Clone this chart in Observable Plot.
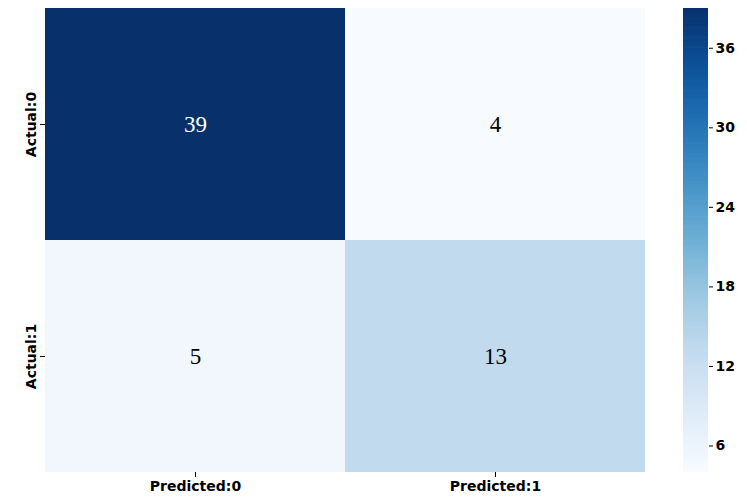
<!DOCTYPE html>
<html>
<head>
<meta charset="utf-8">
<script src="https://cdn.jsdelivr.net/npm/d3@7"></script>
<script src="https://cdn.jsdelivr.net/npm/@observablehq/plot@0.6"></script>
<style>
  html, body { margin: 0; padding: 0; background: #fff; }
  #wrap { position: relative; width: 747px; height: 501px; overflow: hidden; }
  #wrap svg { position: absolute; top: 0; }
</style>
</head>
<body>
<div id="wrap"></div>
<script>
const predicted = ["Predicted:0", "Predicted:1"];
const actual = ["Actual:0", "Actual:1"];
const counts = [[39, 4], [5, 13]];
const colorTicks = [6, 12, 18, 24, 30, 36];
const colorDomain = [4, 39];

const data = actual.flatMap((a, i) => predicted.map((p, j) => ({actual: a, predicted: p, count: counts[i][j]})));

const main = Plot.plot({
  width: 747, height: 501,
  marginLeft: 45, marginRight: 102, marginTop: 8, marginBottom: 29,
  x: {domain: predicted, padding: 0, label: null},
  y: {domain: actual, padding: 0, label: null},
  color: {type: "linear", scheme: "blues", domain: colorDomain},
  style: {fontFamily: "DejaVu Sans", fontSize: "14px", fontWeight: "bold", color: "black", background: "transparent"},
  marks: [
    Plot.cell(data, {x: "predicted", y: "actual", fill: "count"}),
    Plot.text(data, {filter: d => d.count > 25, x: "predicted", y: "actual", text: "count", fill: "white", fontFamily: "Liberation Serif", fontWeight: "normal", fontSize: 23}),
    Plot.text(data, {filter: d => d.count <= 25, x: "predicted", y: "actual", text: "count", fill: "black", fontFamily: "Liberation Serif", fontWeight: "normal", fontSize: 23}),
    Plot.axisX({tickSize: 5, tickPadding: 4, label: null}),
    Plot.axisY({tickSize: 5, tickPadding: 5, tickRotate: -90, label: null})
  ]
});
main.style.left = "0px";

const ramp = d3.range(colorDomain[0], colorDomain[1], 0.25).map(v => ({v}));
const bar = Plot.plot({
  width: 64, height: 501,
  marginLeft: 0, marginRight: 39, marginTop: 8, marginBottom: 29,
  x: {domain: [0, 1], axis: null},
  y: {domain: colorDomain, label: null},
  color: {type: "linear", scheme: "blues", domain: colorDomain},
  style: {fontFamily: "DejaVu Sans", fontSize: "14px", fontWeight: "bold", color: "black", background: "transparent"},
  marks: [
    Plot.rect(ramp, {x1: 0, x2: 1, y1: "v", y2: d => Math.min(d.v + 0.3, colorDomain[1]), fill: "v"}),
    Plot.axisY({anchor: "right", ticks: colorTicks, tickSize: 4, tickPadding: 3, label: null})
  ]
});
bar.style.left = "683px";

document.getElementById("wrap").append(main, bar);
</script>
</body>
</html>
